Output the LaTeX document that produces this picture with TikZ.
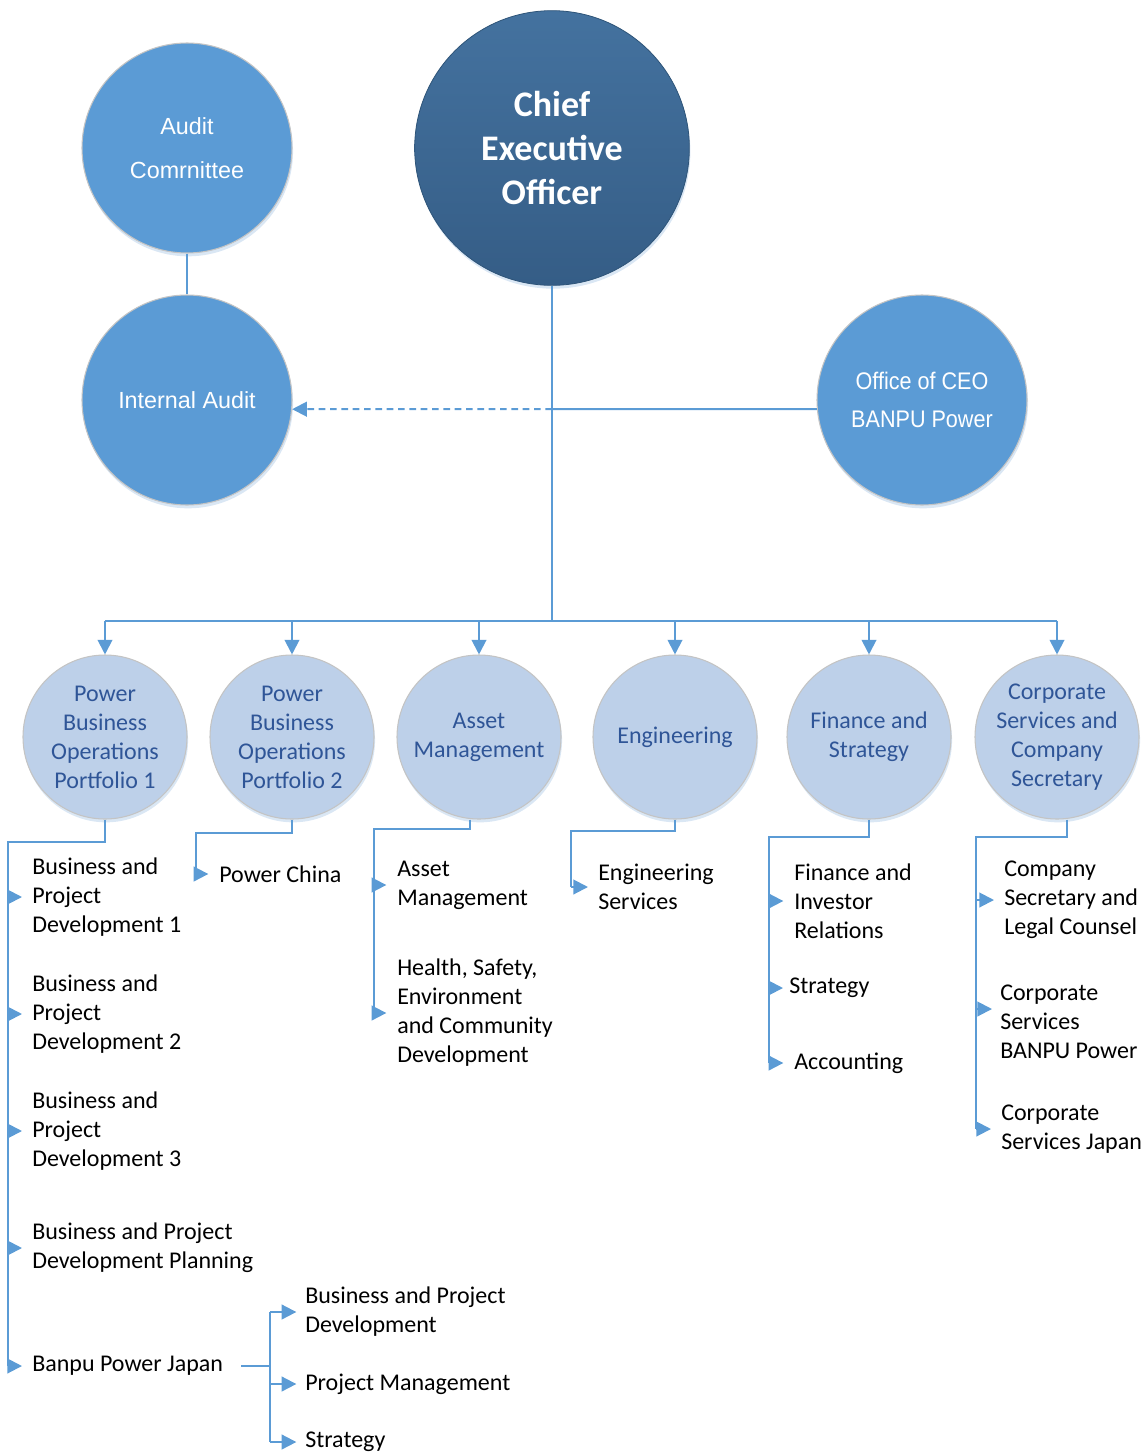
\documentclass[tikz,border=0pt]{standalone}
\usepackage{fontspec}
\setmainfont{Carlito}
\newfontfamily\arialfont{Liberation Sans}
\newfontfamily\narrowfont[FakeStretch=0.9]{Liberation Sans}
\usetikzlibrary{arrows.meta,shadows}
\definecolor{lineblue}{HTML}{5B9BD5}
\definecolor{midblue}{HTML}{5B9BD5}
\definecolor{darkblueA}{HTML}{44729F}
\definecolor{darkblueB}{HTML}{355D86}
\definecolor{darkrim}{HTML}{2E5478}
\definecolor{paleblue}{HTML}{BDD0E9}
\definecolor{textblue}{HTML}{2F5597}
\definecolor{rimgray}{HTML}{C4C4C4}
\definecolor{glow}{HTML}{D6E4F3}
\begin{document}
\begin{tikzpicture}[x=0.75pt,y=-0.75pt,
  ln/.style={draw=lineblue, line width=1.5pt},
  arr/.style={ln, -{Triangle[length=11pt,width=11pt]}},
  softshadow/.style={drop shadow={shadow xshift=0.8pt, shadow yshift=-2.5pt, fill=glow, opacity=0.9}},
  topc/.style={circle, minimum size=157.5pt, inner sep=0pt, fill=midblue, draw=rimgray, line width=0.8pt,
    text=white, align=center, softshadow},
  ceoc/.style={circle, minimum size=206pt, inner sep=0pt, top color=darkblueA, bottom color=darkblueB,
    draw=darkrim, line width=0.6pt, text=white, align=center, softshadow,
    font=\bfseries\fontsize{27}{33}\selectfont},
  lowc/.style={circle, minimum size=123pt, inner sep=0pt, fill=paleblue, draw=rimgray, line width=0.8pt,
    text=textblue, align=center, softshadow, font=\fontsize{18}{21.75}\selectfont},
  item/.style={anchor=west, inner sep=0pt, align=left, font=\fontsize{18}{21.75}\selectfont},
]
\useasboundingbox (0,0) rectangle (1146,1453);

% top level
\node[ceoc] (ceo) at (552,148) {Chief\\Executive\\Officer};
\node[topc, font=\arialfont\fontsize{17.5}{33}\selectfont] (ac) at (187,148) {Audit\\Comrnittee};
\node[topc, font=\arialfont\fontsize{17.5}{33}\selectfont] (ia) at (187,400) {Internal Audit};
\node[topc, font=\narrowfont\fontsize{18}{28.5}\selectfont] (off) at (922,400) {Office of CEO\\BANPU Power};

\coordinate (j) at (552,409);
\coordinate (bus) at (552,621);

\draw[ln] (ac.south) -- (ia.north);
\draw[ln] (ceo.south) -- (bus);
\draw[ln] (j) -- (off.185);
\draw[ln, dash pattern=on 5pt off 3.5pt, -{Triangle[length=11pt,width=11pt]}] (j) -- (ia.-5);

% second level
\node[lowc] (c1) at (105,737) {Power\\Business\\Operations\\Portfolio 1};
\node[lowc] (c2) at (292,737) {Power\\Business\\Operations\\Portfolio 2};
\node[lowc] (c3) at (479,737) {Asset\\Management};
\node[lowc] (c4) at (675,737) {Engineering};
\node[lowc] (c5) at (869,737) {Finance and\\Strategy};
\node[lowc] (c6) at (1057,737) {Corporate\\Services and\\Company\\Secretary};

\draw[ln] (c1.north |- bus) -- (c6.north |- bus);
\foreach \n in {c1,c2,c3,c4,c5,c6} \draw[arr] (\n.north |- bus) -- (\n.north);

% items
\node[item] (i11) at (32,897) {Business and\\Project\\Development 1};
\node[item] (i12) at (32,1014) {Business and\\Project\\Development 2};
\node[item] (i13) at (32,1131) {Business and\\Project\\Development 3};
\node[item] (i14) at (32,1248) {Business and Project\\Development Planning};
\node[item] (i15) at (32,1366) {Banpu Power Japan};
\node[item] (j1) at (305,1312) {Business and Project\\Development};
\node[item] (j2) at (305,1384) {Project Management};
\node[item] (j3) at (305,1442) {Strategy};
\node[item] (i21) at (219,874) {Power China};
\node[item] (i31) at (397,885) {Asset\\Management};
\node[item] (i32) at (397,1013) {Health, Safety,\\Environment\\and Community\\Development};
\node[item] (i41) at (598,887) {Engineering\\Services};
\node[item] (i51) at (794,901) {Finance and\\Investor\\Relations};
\node[item] (i52) at (789,988) {Strategy};
\node[item] (i53) at (794,1063) {Accounting};
\node[item] (i61) at (1004,900) {Company\\Secretary and\\Legal Counsel};
\node[item] (i62) at (1000,1022) {Corporate\\Services\\BANPU Power};
\node[item] (i63) at (1001,1129) {Corporate\\Services Japan};

% branch corners
\coordinate (k1) at (8,842);
\coordinate (k2) at (196,833);
\coordinate (k3) at (374,829);
\coordinate (k4) at (571,831);
\coordinate (k5) at (769,837);
\coordinate (k6) at (976,837);
\coordinate (bj) at (270,1300);
\coordinate (t62) at (992,1009);

% column 1
\draw[ln] (c1.south) |- (k1) -- (k1 |- i15.west);
\foreach \n in {i11,i12,i13,i14,i15} \draw[arr] (k1 |- \n.west) -- ([xshift=-7.5pt]\n.west);
\draw[ln] ([xshift=13.5pt]i15.east) -- (bj |- i15.east);
\draw[ln] (bj |- j1.west) -- (bj |- j3.west);
\foreach \n in {j1,j2,j3} \draw[arr] (bj |- \n.west) -- ([xshift=-6.5pt]\n.west);

% column 2
\draw[ln] (c2.south) |- (k2) -- (k2 |- i21.west);
\draw[arr] (k2 |- i21.west) -- ([xshift=-8pt]i21.west);

% column 3
\draw[ln] ([xshift=-6.75pt]c3.south) |- (k3) -- (k3 |- i32.west);
\foreach \n in {i31,i32} \draw[arr] (k3 |- \n.west) -- ([xshift=-8pt]\n.west);

% column 4
\draw[ln] (c4.south) |- (k4) -- (k4 |- i41.west);
\draw[arr] (k4 |- i41.west) -- ([xshift=-7.5pt]i41.west);

% column 5
\draw[ln] (c5.south) |- (k5) -- (k5 |- i53.west);
\draw[arr] (k5 |- i51.west) -- ([xshift=-8pt]i51.west);
\draw[arr] (k5 |- i52.west) -- ([xshift=-4.5pt]i52.west);
\draw[arr] (k5 |- i53.west) -- ([xshift=-8pt]i53.west);

% column 6
\draw[ln] ([xshift=7.5pt]c6.south) |- (k6) -- (k6 |- i63.west);
\draw[arr] (k6 |- i61.west) -- ([xshift=-7.5pt]i61.west);
\draw[arr] (k6 |- t62) -- (t62);
\draw[arr] (k6 |- i63.west) -- ([xshift=-7.5pt]i63.west);
\end{tikzpicture}
\end{document}
